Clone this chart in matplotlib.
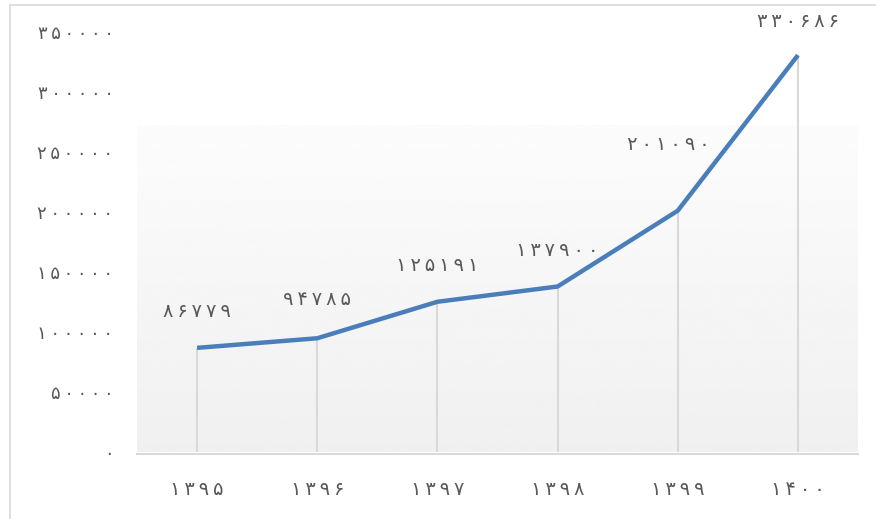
import numpy as np
import matplotlib.pyplot as plt
from matplotlib.patches import Rectangle

# Persian digits
FA = str.maketrans("0123456789", "۰۱۲۳۴۵۶۷۸۹")

years = [1395, 1396, 1397, 1398, 1399, 1400]
values = [86779, 94785, 125191, 137900, 201090, 330686]
yticks = [0, 50000, 100000, 150000, 200000, 250000, 300000, 350000]


def fa(n):
    # persian digits with a little spacing, like the original
    return "\u2009".join(str(n).translate(FA))


plt.rcParams['font.family'] = ['DejaVu Sans']
text_col = '#595959'

fig = plt.figure(figsize=(8.76, 5.19), dpi=100)
ax = fig.add_axes([137 / 876, (519 - 452) / 519, 721 / 876, 420 / 519])

# outer frame of the chart picture
fig.patches.append(Rectangle((10 / 876, -0.01), 1.0, (519 - 5) / 519 + 0.01,
                             transform=fig.transFigure, fill=False,
                             edgecolor='#d9d9d9', lw=1.2))

x0, x1 = years[0] - 0.5, years[-1] + 0.5
ax.set_xlim(x0, x1)
ax.set_ylim(0, 350000)

# gradient background (near white at top, light grey at bottom)
grad = np.linspace(0.94, 0.988, 256).reshape(-1, 1)
ax.imshow(grad, cmap='gray', vmin=0, vmax=1, origin='lower', aspect='auto',
          extent=(x0, x1, -2500, 272000), zorder=0, interpolation='bicubic')

# drop lines
ax.vlines(years, 0, values, colors='#d9d9d9', lw=1.5, zorder=1)
ax.axhline(-2000, color='#d9d9d9', lw=1.5, zorder=1, clip_on=False)

ax.plot(years, values, color='#4a7ebb', lw=3.2, zorder=3, solid_capstyle='butt')

# data labels
offsets = [26, 28, 26, 26, 48, 24]
dx = [0, 0, 0, 0, -0.08, 0]
for x, v, o, d in zip(years, values, offsets, dx):
    ax.annotate(fa(v), (x + d, v), xytext=(0, o),
                textcoords='offset points', ha='center', va='center',
                fontsize=14, color=text_col, zorder=4)

ax.set_xticks(years)
ax.set_xticklabels([fa(y) for y in years], fontsize=14, color=text_col)
ax.set_yticks(yticks)
ax.set_yticklabels([fa(t) for t in yticks], fontsize=13, color=text_col)
ax.tick_params(length=0)
ax.tick_params(axis='x', pad=20)
ax.tick_params(axis='y', pad=17)
for s in ax.spines.values():
    s.set_visible(False)
ax.set_facecolor('white')

fig.savefig('out.png', dpi=100)
